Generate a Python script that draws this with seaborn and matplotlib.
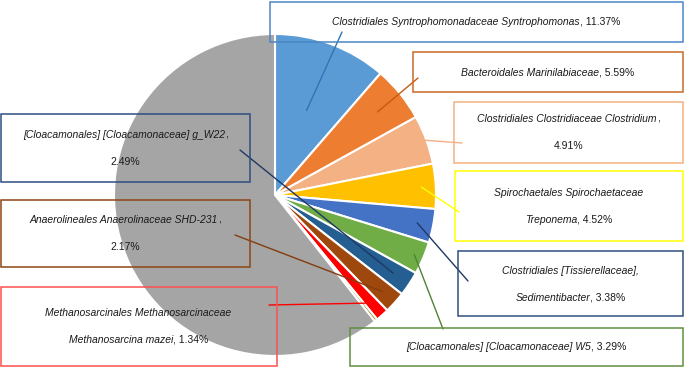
import matplotlib.pyplot as plt
import numpy as np
import seaborn as sns
from matplotlib.patches import Rectangle

# taxa (italic part, split into the lines used on the chart) and their shares in %
taxa = [
    ["Clostridiales Syntrophomonadaceae Syntrophomonas"],
    ["Bacteroidales Marinilabiaceae"],
    ["Clostridiales Clostridiaceae Clostridium", ""],
    ["Spirochaetales Spirochaetaceae", "Treponema"],
    ["Clostridiales [Tissierellaceae],", "Sedimentibacter"],
    ["[Cloacamonales] [Cloacamonaceae] W5"],
    ["[Cloacamonales] [Cloacamonaceae] g_W22", ""],
    ["Anaerolineales Anaerolinaceae SHD-231", ""],
    ["Methanosarcinales Methanosarcinaceae", "Methanosarcina mazei"],
]
shares = [11.37, 5.59, 4.91, 4.52, 3.38, 3.29, 2.49, 2.17, 1.34]
minor_share = 0.30
rest_share = 100 - sum(shares) - minor_share

slice_colors = ['#5B9BD5', '#ED7D31', '#F4B183', '#FFC000', '#4472C4',
                '#70AD47', '#255E91', '#9E480E', '#FF0000', '#997300', '#A5A5A5']
box_colors = ['#4A86C5', '#C96A2A', '#F4B183', '#FFFF00', '#2F4F7F',
              '#5F8F3F', '#2F4D80', '#8B4513', '#FF5050']
line_colors = ['#2E75B6', '#C55A11', '#F4B183', '#FFFF00', '#1F3864',
               '#538135', '#203864', '#843C0C', '#FF0000']

# layout in image pixels (y down)
W, H = 685, 367
pie_center = (275, 195)
pie_radius = 161
boxes = [(270, 2, 683, 42), (413, 52, 683, 92), (454, 102, 683, 163),
         (455, 171, 683, 241), (458, 251, 683, 316), (350, 328, 683, 366),
         (1, 114, 250, 182), (1, 200, 250, 267), (0, 287, 277, 366)]
text_rows = [[21], [72], [118, 145], [192, 219], [270, 297], [346],
             [134, 161], [219, 246], [312, 339]]
leader_end = [(342, 32), (418, 78), (462, 143), (459, 212), (468, 281),
              (443, 329), (240, 150), (235, 235), (269, 305)]
leader_frac = [0.56, 0.82, 0.99, 0.91, 0.9, 0.94, 0.88, 0.9, 0.9]

sns.set_theme(style='white')
plt.rcParams['font.family'] = ['Liberation Sans', 'DejaVu Sans']


def label_lines(name_lines, pct):
    # list of (italic part, regular part) per text row
    out = []
    for k, line in enumerate(name_lines):
        if k < len(name_lines) - 1:
            out.append((line, ''))
        elif line == '':
            out[-1] = (out[-1][0], ',')
            out.append(('', f'{pct:.2f}%'))
        else:
            out.append((line, f', {pct:.2f}%'))
    return out


fig = plt.figure(figsize=(W / 100, H / 100), dpi=100)
ax = fig.add_axes([0, 0, 1, 1])

cx, cy = pie_center[0], H - pie_center[1]
wedges, _ = ax.pie(shares + [minor_share, rest_share], colors=slice_colors,
                   startangle=90, counterclock=False, center=(cx, cy),
                   radius=pie_radius,
                   wedgeprops=dict(edgecolor='white', linewidth=1.5))

ax.set_xlim(0, W)
ax.set_ylim(0, H)
ax.set_aspect('equal')
ax.axis('off')

renderer = fig.canvas.get_renderer()

for i, name_lines in enumerate(taxa):
    x0, y0, x1, y1 = boxes[i]
    ax.add_patch(Rectangle((x0 + 0.5, H - y1), x1 - x0, y1 - y0, fill=False,
                           edgecolor=box_colors[i], linewidth=1.1, zorder=4))
    for row, (it, reg) in zip(text_rows[i], label_lines(name_lines, shares[i])):
        base = H - row - 3.6
        t1 = ax.text(0, base, it, style='italic', ha='left', va='baseline',
                     fontsize=7.5, color='#1a1a1a', zorder=5)
        t2 = ax.text(0, base, reg, ha='left', va='baseline',
                     fontsize=7.5, color='#1a1a1a', zorder=5)
        w1 = t1.get_window_extent(renderer).width if it else 0
        w2 = t2.get_window_extent(renderer).width if reg else 0
        start = (x0 + x1) / 2 - (w1 + w2) / 2
        t1.set_x(start)
        t2.set_x(start + w1)

    # leader line from inside the wedge to the label box
    w = wedges[i]
    mid = np.deg2rad((w.theta1 + w.theta2) / 2)
    r = pie_radius * leader_frac[i]
    ex, ey = leader_end[i]
    ax.plot([cx + r * np.cos(mid), ex], [cy + r * np.sin(mid), H - ey],
            color=line_colors[i], linewidth=1.0, zorder=3)

fig.savefig('out.png', dpi=100)
